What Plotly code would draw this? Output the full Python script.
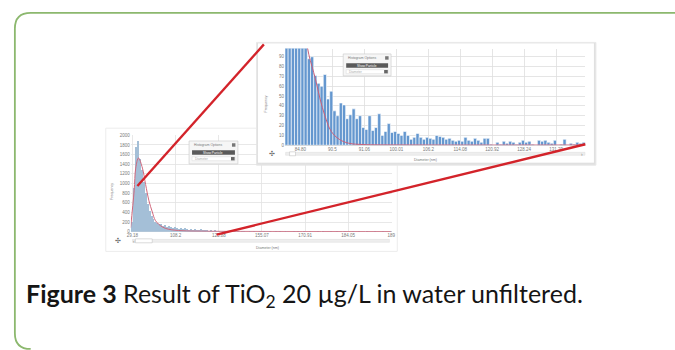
import plotly.graph_objects as go

W, H = 675, 350

# ---------------- data ----------------
# main histogram (frequency per bin, bins in order of increasing diameter)
main_counts = [200, 900, 1750, 1880, 1500, 1280, 1040, 800, 570, 420,
               320, 260, 210, 180, 150, 160, 120, 130, 100, 110,
               90, 80, 100, 70, 60, 80, 50, 70, 50, 40,
               60, 40, 50, 30, 40, 50, 30, 30, 40, 20,
               30, 20, 30, 20,
               10, 0, 20, 10, 0, 10, 10, 0, 20, 0, 10,
               0, 10, 20, 0, 0, 10, 0, 10, 0, 0, 20,
               0, 10, 0, 0, 10, 0, 0, 10, 0, 20, 0,
               0, 10, 0, 0, 0, 10, 0, 10, 0, 0, 20,
               0, 0, 10, 0, 0, 0, 10, 0, 0, 10, 0,
               0, 0, 10, 0, 0, 20, 0, 0, 0, 10, 0,
               0, 0, 10, 0, 0, 10, 0, 0, 0, 10, 0,
               0, 0, 10, 0, 0, 0, 10, 0, 0, 0, 10]
main_fit_bin = [-0.6, 1.2, 2.0, 3.4, 5.4, 7.0, 8.7, 10.4, 12.0, 15.4, 18.7, 25.4, 35.4, 60, 131]
main_fit_val = [80, 850, 1320, 1530, 1320, 980, 640, 410, 230, 100, 50, 20, 10, 5, 3]
main_tick_labels = ["29.18", "108.2", "125.88", "155.07", "170.91", "184.05", "189"]
main_y_ticks = [0, 200, 400, 600, 800, 1000, 1200, 1400, 1600, 1800, 2000]

# zoomed inset histogram
inset_counts = [180, 170, 160, 150, 130, 115, 100,
                88, 90, 71, 63, 60, 72, 47, 55, 35, 30,
                43, 41, 27, 31, 37, 27, 30, 18, 16, 30,
                15, 18, 32, 10, 14, 22, 13, 14, 12, 10,
                14, 10, 6, 8, 12, 8, 6, 8, 7, 6,
                10, 9, 8, 6, 7, 5, 4, 5, 4, 8,
                5, 4, 7, 5, 3, 7, 7, 1, 0, 3,
                1, 4, 2, 4, 3, 1, 3, 5, 3, 4,
                1, 0, 5, 4, 5, 3, 2, 5, 0, 1,
                6, 0, 2, 1, 3, 2, 3]
inset_fit_bin = [6.0, 7.0, 9.0, 10.5, 12.0, 14.0, 16.5, 19.5, 24, 35, 93]
inset_fit_val = [110, 92, 68, 47, 30, 14, 6, 2, 0.7, 0.3, 0.2]
inset_tick_labels = ["84.80", "90.5", "91.06", "100.01", "106.2", "114.08", "120.92", "128.24", "131.29"]
inset_y_ticks = [0, 10, 20, 30, 40, 50, 60, 70, 80, 90]

caption_bold = "Figure 3"
caption_text = " Result of TiO<sub>2</sub> 20 µg/L in water unfiltered."

# ---------------- geometry helpers ----------------
def PX(x):
    return x / W

def PY(y):
    return 1 - y / H

N_MAIN = len(main_counts)
N_INSET = len(inset_counts)

MAIN_X = (128.3, 392.3)   # pixel extent of main plot area
MAIN_Y = (135.3, 233.0)
INSET_X = (284.3, 588.3)
INSET_Y = (47.3, 145.3)
INSET_PANEL = (257, 42, 597, 163)
MAIN_PANEL = (103, 128, 398, 253)
MAIN_YMAX = 2000
INSET_YMAX = 98.3

def main_to_px(b, v):
    x = MAIN_X[0] + (b + 0.5) / N_MAIN * (MAIN_X[1] - MAIN_X[0])
    y = MAIN_Y[1] - v / MAIN_YMAX * (MAIN_Y[1] - MAIN_Y[0])
    return x, y

def inset_to_px(b, v):
    x = INSET_X[0] + (b + 0.5) / N_INSET * (INSET_X[1] - INSET_X[0])
    y = INSET_Y[1] - v / INSET_YMAX * (INSET_Y[1] - INSET_Y[0])
    return x, y

fig = go.Figure()

# main histogram
fig.add_trace(go.Bar(x=list(range(N_MAIN)), y=main_counts, marker=dict(color="#a4bfd7", line=dict(width=0)),
                     xaxis="x", yaxis="y", hoverinfo="skip"))
fig.add_trace(go.Scatter(x=main_fit_bin, y=main_fit_val, mode="lines", line=dict(color="#d0677c", width=1, shape="spline"),
                         xaxis="x", yaxis="y", hoverinfo="skip", cliponaxis=True))
# inset panel (own subplot so that its background covers the main chart)
fig.add_trace(go.Scatter(x=[], y=[], xaxis="x2", yaxis="y2", hoverinfo="skip"))
# inset histogram
fig.add_trace(go.Bar(x=list(range(N_INSET)), y=inset_counts,
                     marker=dict(color="#6497cf", line=dict(color="#ffffff", width=0.6)),
                     xaxis="x3", yaxis="y3", hoverinfo="skip"))
fig.add_trace(go.Scatter(x=inset_fit_bin, y=inset_fit_val, mode="lines", line=dict(color="#c9607a", width=1, shape="spline"),
                         xaxis="x3", yaxis="y3", hoverinfo="skip"))

tickfont = dict(family="Liberation Sans", size=4.5, color="#7a7a7a")
main_step = (N_MAIN - 1) / (len(main_tick_labels) - 1)
inset_step = 10

fig.update_layout(
    width=W, height=H, autosize=False,
    margin=dict(l=0, r=0, t=0, b=0),
    paper_bgcolor="white", plot_bgcolor="white",
    showlegend=False, bargap=0,
    xaxis=dict(domain=[PX(MAIN_X[0]), PX(MAIN_X[1])], range=[-0.5, N_MAIN - 0.5], anchor="y",
               tickvals=[0.35 + main_step * k for k in range(len(main_tick_labels))],
               ticktext=main_tick_labels, tickfont=tickfont, showgrid=True, gridcolor="#e2e2e2",
               gridwidth=0.8, zeroline=False, showline=False, ticks="", fixedrange=True),
    yaxis=dict(domain=[PY(MAIN_Y[1]), PY(MAIN_Y[0])], range=[0, MAIN_YMAX], anchor="x",
               tickvals=main_y_ticks, tickfont=tickfont, showgrid=True, gridcolor="#e2e2e2",
               gridwidth=0.8, zeroline=True, zerolinecolor="#d0d0d0", zerolinewidth=0.8,
               showline=False, ticks="", fixedrange=True),
    xaxis2=dict(domain=[PX(INSET_PANEL[0]), PX(INSET_PANEL[2])], range=[0, 1], anchor="y2", visible=False),
    yaxis2=dict(domain=[PY(INSET_PANEL[3]), PY(INSET_PANEL[1])], range=[0, 1], anchor="x2", visible=False),
    xaxis3=dict(domain=[PX(INSET_X[0]), PX(INSET_X[1])], range=[-0.5, N_INSET - 0.5], anchor="y3",
                tickvals=[4.35 + inset_step * k for k in range(len(inset_tick_labels))],
                ticktext=inset_tick_labels, tickfont=tickfont, showgrid=True, gridcolor="#dedede",
                gridwidth=0.8, zeroline=False, showline=False, ticks="", fixedrange=True),
    yaxis3=dict(domain=[PY(INSET_Y[1]), PY(INSET_Y[0])], range=[0, INSET_YMAX], anchor="x3",
                tickvals=inset_y_ticks, tickfont=tickfont, showgrid=True, gridcolor="#dedede",
                gridwidth=0.8, zeroline=True, zerolinecolor="#cfcfcf", zerolinewidth=0.8,
                showline=False, ticks="", fixedrange=True),
)

shapes = []
annos = []

def rect(x0, y0, x1, y1, fill, line="rgba(0,0,0,0)", lw=0.8, layer="above"):
    shapes.append(dict(type="rect", xref="paper", yref="paper", x0=PX(x0), x1=PX(x1), y0=PY(y1), y1=PY(y0),
                       fillcolor=fill, line=dict(color=line, width=lw), layer=layer))

def text(x, y, s, size, color="#777", anchor="center", angle=0, family="Liberation Sans"):
    annos.append(dict(x=PX(x), y=PY(y), xref="paper", yref="paper", text=s, showarrow=False,
                      xanchor=anchor, yanchor="middle", textangle=angle,
                      font=dict(family=family, size=size, color=color)))

# main screenshot panel and inset shadow
rect(*MAIN_PANEL, fill="white", line="#ececec", lw=1, layer="below")
rect(INSET_PANEL[0] - 1.5, INSET_PANEL[1] - 1, INSET_PANEL[2] + 2, INSET_PANEL[3] + 2.5,
     fill="#e0e0e0", line="#e8e8e8", lw=1, layer="below")

# histogram option boxes
def hist_options(x0, y0, w, h):
    rect(x0, y0, x0 + w, y0 + h, fill="#f6f6f6", line="#cfcfcf", lw=0.7)
    text(x0 + 3, y0 + 4, "Histogram Options", 3.4, "#777", anchor="left")
    rect(x0 + w - 6, y0 + 2.3, x0 + w - 2.5, y0 + 5.8, fill="#777777")
    rect(x0 + 3, y0 + 9.5, x0 + w - 3, y0 + 14, fill="#5a5a5a")
    text(x0 + w / 2, y0 + 11.8, "Show Particle", 3.2, "#ffffff")
    rect(x0 + 3, y0 + 16, x0 + w - 3, y0 + 20, fill="#ffffff", line="#d8d8d8", lw=0.5)
    text(x0 + 4, y0 + 18, "Diameter", 3.2, "#aaa", anchor="left")
    rect(x0 + w - 7, y0 + 16.3, x0 + w - 3.3, y0 + 19.7, fill="#666666")

hist_options(187.3, 141, 49.4, 23.3)
hist_options(343.3, 52.7, 48.4, 22.3)

# scroll bars and expand icons
def scrollbar(x0, x1, y, h0, h1):
    rect(x0, y - 1.5, x1, y + 1.5, fill="#eeeeee", line="#dddddd", lw=0.5)
    rect(h0, y - 2, h1, y + 2, fill="#ffffff", line="#bbbbbb", lw=0.5)

scrollbar(130, 390, 242.3, 133, 150)
scrollbar(285, 588, 154, 289, 295)
text(115, 242.3, "✣", 7, "#666", family="DejaVu Sans")
text(271.7, 154, "✣", 7, "#666", family="DejaVu Sans")
text(131.5, 242.3, "‹", 5, "#888")
text(585, 154, "›", 5, "#888")

# axis titles
text(110, 192, "Frequency", 3.6, "#777", angle=-90)
text(266.7, 250, "Diameter (nm)", 3.6, "#777")
text(265, 103, "Frequency", 3.6, "#777", angle=-90)
text(426.7, 160.5, "Diameter (nm)", 3.6, "#777")

# red connector lines (from main chart data points to inset corners)
a0 = main_to_px(2.85, 950)
a1 = (INSET_PANEL[0] + 6, INSET_PANEL[1] + 1)
b0 = main_to_px(42.9, -60)
b1 = inset_to_px(N_INSET - 0.5, 1)
for p, q in ((a0, a1), (b0, b1)):
    shapes.append(dict(type="line", xref="paper", yref="paper", x0=PX(p[0]), y0=PY(p[1]), x1=PX(q[0]), y1=PY(q[1]),
                       line=dict(color="#d3232a", width=2.4), layer="above"))

# green rounded frame
frame = (f"M {PX(690)},{PY(11)} L {PX(27)},{PY(11)} Q {PX(11)},{PY(11)} {PX(11)},{PY(27)} "
         f"L {PX(11)},{PY(336)} Q {PX(11)},{PY(352)} {PX(27)},{PY(352)}")
shapes.append(dict(type="path", xref="paper", yref="paper", path=frame,
                   line=dict(color="#8cb86e", width=1.8), layer="above"))

# caption
annos.append(dict(x=PX(20), y=PY(297), xref="paper", yref="paper", showarrow=False,
                  xanchor="left", yanchor="middle",
                  text=f"<b>{caption_bold}</b>{caption_text}",
                  font=dict(family="Lato", size=25, color="#151515")))

fig.update_layout(shapes=shapes, annotations=annos)
fig.write_html("out.html", config={"displayModeBar": False, "staticPlot": True},
               post_script="document.body.style.margin='0';document.body.style.overflow='hidden';")
